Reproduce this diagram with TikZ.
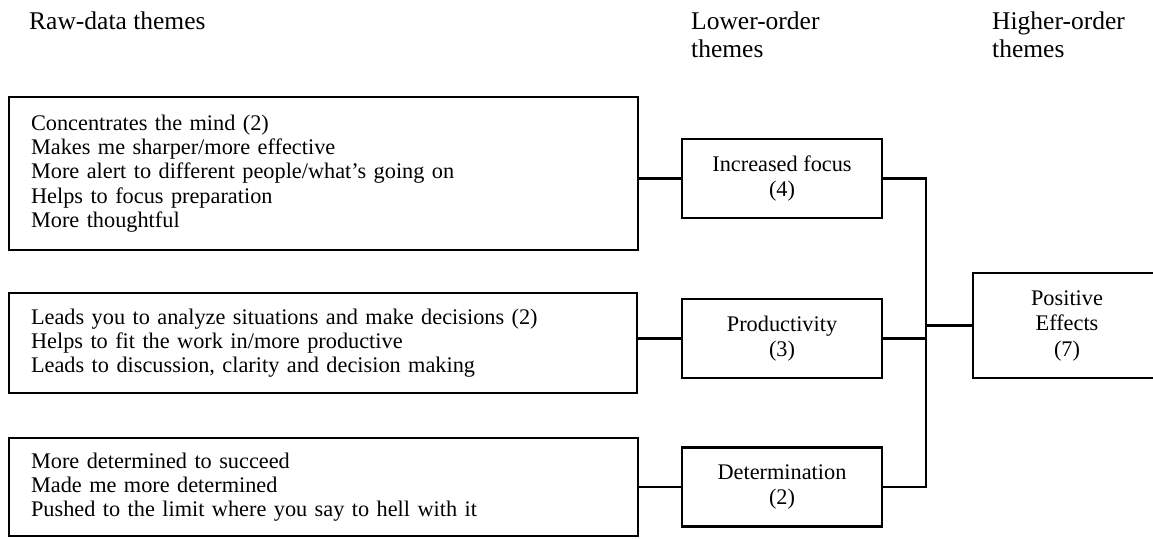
\documentclass[tikz,border=0pt]{standalone}
\usepackage{fontspec}
\setmainfont{Liberation Serif}
\begin{document}
\begin{tikzpicture}[x=1pt,y=-1pt,
  bodyfont/.style={font=\fontsize{22.3}{25.5}\selectfont},
  frame/.style={draw, line width=2.1pt, inner sep=0pt, bodyfont},
  rawbox/.style={frame, anchor=north west, align=left, inner xsep=22pt,
                 font=\fontsize{22.3}{24.3}\selectfont},
  lowbox/.style={frame, minimum width=200pt, minimum height=79pt, align=center},
  hdr/.style={anchor=north west, inner sep=0pt, align=left,
              font=\fontsize{25.5}{28.5}\selectfont},
  conn/.style={line width=2.1pt}]
\useasboundingbox (0,0) rectangle (1153,538);

% column headings
\node[hdr] (hraw) at (29,11.6) {Raw-data themes};
\node[hdr] (hlow) at (691,11.6) {Lower-order\\themes};
\node[hdr] (hhigh) at (992,11.6) {Higher-order\\themes};

% raw-data theme boxes
\node[rawbox, text width=585pt, minimum height=153pt] (r1) at (8,96)
  {Concentrates the mind (2)\\
   Makes me sharper/more effective\\
   More alert to different people/what's going on\\
   Helps to focus preparation\\
   More thoughtful};
\node[rawbox, text width=584pt, minimum height=100pt] (r2) at (8,292)
  {Leads you to analyze situations and make decisions (2)\\
   Helps to fit the work in/more productive\\
   Leads to discussion, clarity and decision making};
\node[rawbox, text width=585pt, minimum height=98pt] (r3) at (8,437)
  {More determined to succeed\\
   Made me more determined\\
   Pushed to the limit where you say to hell with it};

% lower-order theme boxes
\node[lowbox] (l1) at (782,178.5) {Increased focus\\(4)};
\node[lowbox] (l2) at (782,338.5) {Productivity\\(3)};
\node[lowbox] (l3) at (782,487) {Determination\\(2)};

% higher-order theme box
\node[frame, minimum width=188pt, minimum height=105pt, align=center]
  (pe) at (1067,325.5) {Positive\\Effects\\(7)};

% junction line
\coordinate (j) at (926,0);

% connectors
\draw[conn] (l1.west) -- (l1.west -| r1.east);
\draw[conn] (l2.west) -- (l2.west -| r2.east);
\draw[conn] (l3.west) -- (l3.west -| r3.east);
\draw[conn] (l1.east) -- (l1.east -| j) -- (l3.east -| j) -- (l3.east);
\draw[conn] (l2.east) -- (l2.east -| j);
\draw[conn] (pe.west) -- (pe.west -| j);
\end{tikzpicture}
\end{document}
